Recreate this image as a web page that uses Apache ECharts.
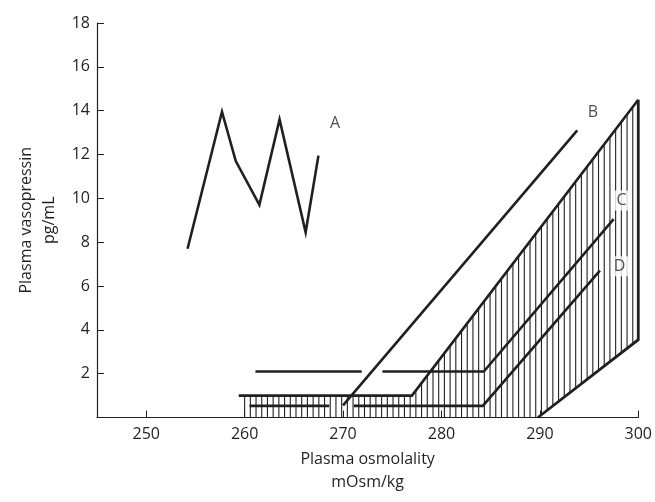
<!DOCTYPE html>
<html><head><meta charset="utf-8">
<script src="https://cdn.jsdelivr.net/npm/echarts@6/dist/echarts.min.js"></script>
<style>html,body{margin:0;padding:0;background:#fff}#c{width:655px;height:502px}</style>
</head><body><div id="c"></div>
<script>
// ---- data ----
var xTicks = [250, 260, 270, 280, 290, 300];
var yTicks = [2, 4, 6, 8, 10, 12, 14, 16, 18];
var lineA = [[254.2, 7.7], [257.7, 13.95], [259.1, 11.7], [261.5, 9.7], [263.55, 13.6], [266.2, 8.45], [267.5, 11.95]];
var lineB = [[270.0, 0.55], [293.8, 13.1]];
var lineC1 = [[261.1, 2.1], [271.9, 2.1]];
var lineC2 = [[274.0, 2.1], [284.3, 2.1], [297.5, 9.05]];
var lineD1 = [[260.5, 0.53], [268.6, 0.53]];
var lineD2 = [[271.1, 0.53], [284.2, 0.53], [296.1, 6.7]];
var bandUpper = [[259.4, 1.0], [277.0, 1.0], [300, 14.5]];
var bandRight = [[300, 14.5], [300, 3.55], [289.8, 0]];
var bandTop = [[260, 1.0], [277.0, 1.0], [300, 14.5]];
var bandBottom = [[260, 0], [289.8, 0], [300, 3.55]];
var hatchStart = 260, hatchEnd = 300, hatchStep = 0.58;
var labelNames = ['A', 'B', 'C', 'D'];
var labelPos = [[269.2, 13.4], [295.4, 13.9], [298.3, 9.9], [298.1, 6.9]];

var INK = '#231f20';
var FONT = '"Open Sans", "Noto Sans", sans-serif';

function interp(arr, x) {
  for (var i = 0; i < arr.length - 1; i++) {
    var a = arr[i], b = arr[i + 1];
    if (x >= a[0] && x <= b[0]) {
      if (b[0] === a[0]) return a[1];
      return a[1] + (b[1] - a[1]) * (x - a[0]) / (b[0] - a[0]);
    }
  }
  return arr[arr.length - 1][1];
}
var hatchX = [];
for (var hx = hatchStart; hx <= hatchEnd + 1e-9; hx += hatchStep) hatchX.push(+hx.toFixed(3));

function lineSeries(data, w) {
  return {
    type: 'line', data: data, symbol: 'none', silent: true, z: 5,
    lineStyle: { color: INK, width: w || 2.6, cap: 'butt', join: 'miter' },
    animation: false
  };
}

var chart = echarts.init(document.getElementById('c'), null, { renderer: 'canvas' });
chart.setOption({
  animation: false,
  backgroundColor: '#fff',
  grid: { left: 97, right: 16, top: 23, bottom: 84.5, containLabel: false },
  xAxis: {
    type: 'value', min: 245, max: 300,
    name: 'Plasma osmolality\nmOsm/kg', nameLocation: 'middle', nameGap: 30,
    nameTextStyle: { fontFamily: FONT, fontSize: 16, color: INK, lineHeight: 23 },
    axisLine: { lineStyle: { color: INK, width: 1.2 } },
    axisTick: { inside: true, length: 7, lineStyle: { color: INK, width: 1 }, customValues: xTicks },
    axisLabel: { fontFamily: FONT, fontSize: 16, color: INK, margin: 9, customValues: xTicks },
    splitLine: { show: false }
  },
  yAxis: {
    type: 'value', min: 0, max: 18,
    name: 'Plasma vasopressin\npg/mL', nameLocation: 'middle', nameGap: 36, nameRotate: 90,
    nameTextStyle: { fontFamily: FONT, fontSize: 16, color: INK, lineHeight: 23 },
    axisLine: { show: true, lineStyle: { color: INK, width: 1.2 } },
    axisTick: { show: true, inside: true, length: 7, lineStyle: { color: INK, width: 1 }, customValues: yTicks },
    axisLabel: { fontFamily: FONT, fontSize: 16, color: INK, margin: 7, customValues: yTicks },
    splitLine: { show: false }
  },
  series: [
    {
      type: 'custom', silent: true, z: 2,
      data: hatchX.map(function (x) { return [x, interp(bandBottom, x), interp(bandTop, x)]; }),
      renderItem: function (params, api) {
        var p0 = api.coord([api.value(0), api.value(1)]);
        var p1 = api.coord([api.value(0), api.value(2)]);
        return { type: 'line', shape: { x1: p0[0], y1: p0[1], x2: p1[0], y2: p1[1] },
                 style: { stroke: INK, lineWidth: 1.1 } };
      },
      encode: { x: 0, y: [1, 2] },
      animation: false
    },
    lineSeries(lineA),
    lineSeries(lineB),
    lineSeries(lineC1),
    lineSeries(lineC2),
    lineSeries(lineD1),
    lineSeries(lineD2),
    lineSeries(bandUpper),
    lineSeries(bandRight, 2.8),
    {
      type: 'scatter', symbolSize: 0, silent: true, z: 10,
      data: labelPos.map(function (p, i) {
        return { value: p, name: labelNames[i],
          label: { backgroundColor: i >= 2 ? '#fff' : 'transparent', padding: i >= 2 ? [2, 3] : 0 } };
      }),
      label: { show: true, position: 'inside', formatter: '{b}', fontFamily: FONT, fontSize: 16, color: INK },
      animation: false
    }
  ]
});
</script></body></html>
